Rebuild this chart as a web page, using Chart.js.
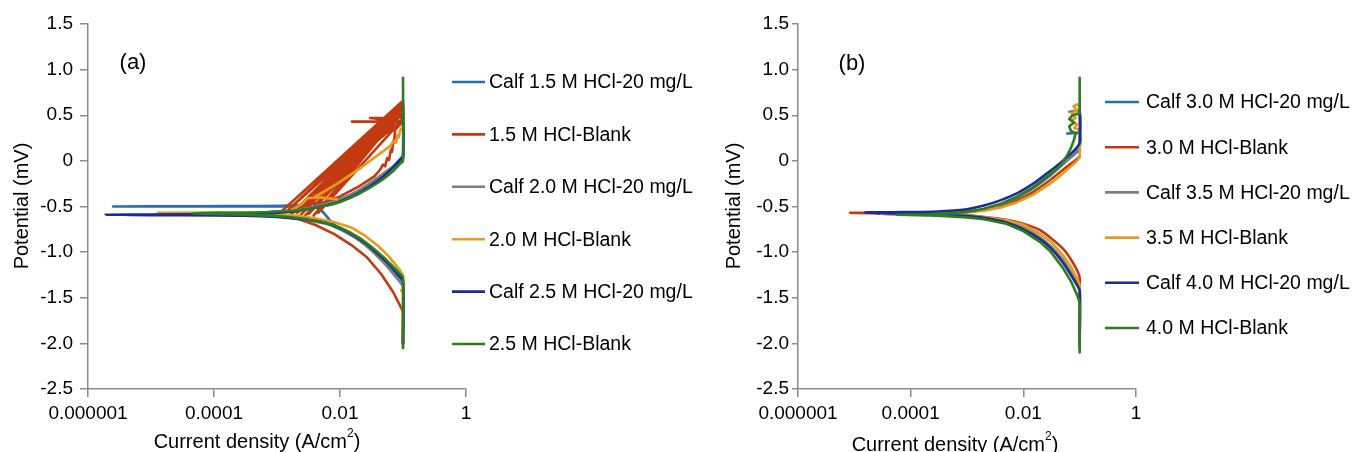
<!DOCTYPE html>
<html><head><meta charset="utf-8">
<script src="https://cdn.jsdelivr.net/npm/chart.js@4.4.1/dist/chart.umd.min.js"></script>
<style>
html,body{margin:0;padding:0;background:#fff;}
#wrap{position:relative;width:1354px;height:452px;overflow:hidden;}
canvas{position:absolute;top:0;}
</style></head>
<body><div id="wrap"><canvas id="ca" width="700" height="452" style="left:0"></canvas><canvas id="cb" width="654" height="452" style="left:700px"></canvas></div>
<script>
// ---------- tick labels ----------
const xTickValues = [1e-6, 1e-4, 1e-2, 1];
const xTickLabels = ['0.000001', '0.0001', '0.01', '1'];
const yTickValues = [-2.5, -2, -1.5, -1, -0.5, 0, 0.5, 1, 1.5];
const yTickLabels = ['-2.5', '-2.0', '-1.5', '-1.0', '-0.5', '0', '0.5', '1.0', '1.5'];

// ---------- categories ----------
const seriesA = ['Calf 1.5 M HCl-20 mg/L', '1.5 M HCl-Blank', 'Calf 2.0 M HCl-20 mg/L', '2.0 M HCl-Blank', 'Calf 2.5 M HCl-20 mg/L', '2.5 M HCl-Blank'];
const seriesB = ['Calf 3.0 M HCl-20 mg/L', '3.0 M HCl-Blank', 'Calf 3.5 M HCl-20 mg/L', '3.5 M HCl-Blank', 'Calf 4.0 M HCl-20 mg/L', '4.0 M HCl-Blank'];
const colors = ['#2270B8', '#C43A10', '#7F7F7F', '#E59C1C', '#1B2D90', '#2C7D1F'];

// ---------- panel (a) values: [current density, potential] ----------
const a_calf15 = [[0.1,-2.0],[0.1,-1.33],[0.085,-1.27],[0.06,-1.16],[0.04,-1.04],[0.025,-0.92],[0.015,-0.81],[0.01,-0.74],[0.0075,-0.68],[0.006,-0.6],[0.005,-0.54],[0.004,-0.51],[0.002,-0.5],[0.0005,-0.5],[0.00005,-0.5],[2.5e-6,-0.5],[0.00005,-0.497],[0.0005,-0.495],[0.0015,-0.49],[0.003,-0.475],[0.006,-0.45],[0.01,-0.42],[0.02,-0.33],[0.04,-0.2],[0.07,-0.06],[0.09,0.02],[0.1,0.06],[0.1,0.6]];
const a_blank15 = [[0.1,-2.0],[0.1,-1.66],[0.095,-1.62],[0.07,-1.44],[0.045,-1.24],[0.027,-1.06],[0.015,-0.92],[0.008,-0.8],[0.004,-0.7],[0.002,-0.63],[0.0011,-0.585],[0.0008,-0.56],
  [0.0012,-0.55],[0.1,0.66],[0.0014,-0.56],[0.095,0.62],[0.0017,-0.58],[0.1,0.6],[0.0019,-0.56],[0.09,0.56],[0.0015,-0.54],[0.1,0.64],[0.0024,-0.59],[0.085,0.5],[0.0021,-0.57],[0.1,0.57],[0.0028,-0.6],[0.08,0.48],[0.0032,-0.58],[0.1,0.52],[0.0026,-0.55],[0.09,0.53],[0.0038,-0.6],[0.075,0.46],[0.0045,-0.57],[0.1,0.46],[0.002,-0.53],[0.1,0.62],[0.003,-0.5],[0.075,0.45],
  [0.004,-0.5],[0.01,-0.39],[0.02,-0.28],[0.035,-0.17],[0.043,-0.1],[0.048,-0.04],[0.052,-0.06],[0.056,0.03],[0.06,0.01],[0.064,0.12],[0.067,0.1],[0.07,0.22],[0.072,0.2],[0.075,0.34],[0.085,0.38],[0.1,0.43],[0.0155,0.43],[0.1,0.43],[0.03,0.47],[0.1,0.47],[0.1,0.64]];
const a_calf20 = [[0.1,-2.0],[0.1,-1.38],[0.09,-1.33],[0.07,-1.24],[0.05,-1.12],[0.03,-0.97],[0.02,-0.87],[0.01,-0.75],[0.006,-0.69],[0.003,-0.65],[0.0015,-0.62],[0.0007,-0.605],[0.0003,-0.595],[0.0001,-0.59],[1.2e-5,-0.585],[0.0001,-0.58],[0.0005,-0.575],[0.0015,-0.555],[0.003,-0.52],[0.006,-0.47],[0.01,-0.42],[0.02,-0.32],[0.04,-0.18],[0.07,-0.06],[0.1,0.02],[0.1,0.5]];
const a_blank20 = [[0.1,-2.05],[0.1,-1.45],[0.094,-1.42],[0.1,-1.4],[0.1,-1.26],[0.09,-1.2],[0.06,-1.05],[0.04,-0.93],[0.025,-0.82],[0.015,-0.73],[0.008,-0.67],[0.004,-0.63],[0.002,-0.6],[0.0008,-0.585],[0.0002,-0.575],[1.3e-5,-0.57],[0.0002,-0.567],[0.0008,-0.562],[0.0016,-0.55],[0.0025,-0.47],[0.003,-0.41],[0.0045,-0.4],[0.009,-0.42],[0.004,-0.39],[0.0055,-0.34],[0.01,-0.23],[0.02,-0.09],[0.03,0.0],[0.045,0.09],[0.062,0.16],[0.072,0.22],[0.078,0.2],[0.082,0.28],[0.086,0.26],[0.09,0.34],[0.1,0.36],[0.1,0.42]];
const a_calf25 = [[0.1,-2.0],[0.1,-1.32],[0.085,-1.25],[0.06,-1.13],[0.04,-1.02],[0.025,-0.9],[0.015,-0.8],[0.01,-0.74],[0.006,-0.68],[0.003,-0.645],[0.0015,-0.625],[0.0007,-0.61],[0.0003,-0.6],[0.0001,-0.597],[1e-5,-0.594],[1.9e-6,-0.59],[1e-5,-0.588],[0.0001,-0.585],[0.0005,-0.578],[0.0015,-0.56],[0.003,-0.53],[0.006,-0.49],[0.01,-0.445],[0.02,-0.35],[0.04,-0.22],[0.07,-0.07],[0.09,0.01],[0.1,0.05],[0.1,0.6]];
const a_blank25 = [[0.1,-2.05],[0.1,-1.6],[0.1,-1.28],[0.09,-1.24],[0.07,-1.16],[0.05,-1.06],[0.03,-0.93],[0.02,-0.84],[0.01,-0.73],[0.006,-0.68],[0.003,-0.64],[0.0015,-0.615],[0.0007,-0.6],[0.0003,-0.59],[0.0001,-0.583],[4.5e-5,-0.575],[0.0001,-0.57],[0.0005,-0.565],[0.0015,-0.55],[0.003,-0.53],[0.006,-0.49],[0.01,-0.45],[0.02,-0.36],[0.04,-0.24],[0.07,-0.11],[0.09,-0.03],[0.1,0.0],[0.1,0.91]];

// ---------- panel (b) values ----------
const b_calf30 = [[0.1,-2.0],[0.1,-1.42],[0.09,-1.36],[0.07,-1.24],[0.05,-1.1],[0.03,-0.94],[0.02,-0.85],[0.01,-0.74],[0.005,-0.67],[0.002,-0.62],[0.001,-0.6],[0.0003,-0.59],[2.5e-5,-0.58],[0.0003,-0.575],[0.001,-0.56],[0.002,-0.53],[0.004,-0.48],[0.008,-0.4],[0.015,-0.3],[0.03,-0.16],[0.05,-0.04],[0.07,0.04],[0.09,0.1],[0.1,0.14],[0.1,0.3],[0.06,0.3],[0.1,0.32],[0.1,0.55]];
const b_blank30 = [[0.1,-2.05],[0.1,-1.28],[0.09,-1.2],[0.07,-1.08],[0.05,-0.96],[0.03,-0.84],[0.02,-0.76],[0.01,-0.69],[0.005,-0.645],[0.002,-0.615],[0.001,-0.6],[0.0003,-0.585],[0.00005,-0.575],[8.4e-6,-0.57],[0.00005,-0.568],[0.0003,-0.565],[0.001,-0.555],[0.002,-0.535],[0.004,-0.5],[0.008,-0.43],[0.015,-0.34],[0.03,-0.21],[0.05,-0.1],[0.07,-0.03],[0.09,0.02],[0.1,0.05]];
const b_calf35 = [[0.1,-2.0],[0.1,-1.4],[0.09,-1.34],[0.07,-1.22],[0.05,-1.08],[0.03,-0.93],[0.02,-0.84],[0.01,-0.73],[0.005,-0.665],[0.002,-0.62],[0.001,-0.6],[0.0003,-0.59],[3e-5,-0.58],[0.0003,-0.575],[0.001,-0.56],[0.002,-0.53],[0.004,-0.475],[0.008,-0.39],[0.015,-0.29],[0.03,-0.15],[0.05,-0.03],[0.07,0.05],[0.09,0.12],[0.1,0.16],[0.1,0.54],[0.065,0.54],[0.1,0.55],[0.1,0.58]];
const b_blank35 = [[0.1,-2.05],[0.1,-1.36],[0.09,-1.29],[0.07,-1.16],[0.05,-1.03],[0.03,-0.88],[0.02,-0.8],[0.01,-0.7],[0.005,-0.65],[0.002,-0.615],[0.001,-0.6],[0.0003,-0.59],[3e-5,-0.58],[0.0003,-0.577],[0.001,-0.565],[0.002,-0.545],[0.004,-0.51],[0.008,-0.45],[0.015,-0.37],[0.03,-0.25],[0.05,-0.14],[0.07,-0.06],[0.09,0.0],[0.1,0.04],[0.1,0.34],[0.08,0.36],[0.09,0.4],[0.07,0.44],[0.085,0.47],[0.072,0.52],[0.09,0.55],[0.078,0.6],[0.09,0.62],[0.1,0.6]];
const b_calf40 = [[0.1,-2.0],[0.1,-1.42],[0.09,-1.36],[0.07,-1.25],[0.05,-1.11],[0.03,-0.95],[0.02,-0.86],[0.01,-0.75],[0.005,-0.675],[0.002,-0.625],[0.001,-0.605],[0.0003,-0.59],[0.00005,-0.575],[1.55e-5,-0.565],[0.00005,-0.563],[0.0003,-0.555],[0.001,-0.53],[0.002,-0.49],[0.004,-0.43],[0.008,-0.35],[0.015,-0.25],[0.03,-0.11],[0.05,0.0],[0.07,0.08],[0.09,0.15],[0.1,0.2],[0.1,0.56]];
const b_blank40 = [[0.1,-2.1],[0.1,-1.55],[0.09,-1.47],[0.07,-1.32],[0.05,-1.17],[0.03,-0.99],[0.02,-0.89],[0.01,-0.77],[0.005,-0.69],[0.002,-0.64],[0.001,-0.62],[0.0003,-0.6],[5.8e-5,-0.59],[0.0003,-0.585],[0.001,-0.56],[0.002,-0.525],[0.004,-0.47],[0.008,-0.39],[0.015,-0.29],[0.03,-0.15],[0.045,-0.05],[0.06,0.06],[0.07,0.14],[0.08,0.24],[0.085,0.3],[0.07,0.33],[0.065,0.38],[0.08,0.42],[0.065,0.46],[0.075,0.5],[0.1,0.52],[0.1,0.91]];

const dataA = [a_calf15, a_blank15, a_calf20, a_blank20, a_calf25, a_blank25];
const dataB = [b_calf30, b_blank30, b_calf35, b_blank35, b_calf40, b_blank40];
const jaggedA = [false, true, false, true, false, false];
const jaggedB = [false, false, false, true, false, true];

const FONT = "'Liberation Sans', Arial, Helvetica, sans-serif";
const AXIS = '#8A8A8A';

const decorPlugin = {
  id: 'decor',
  afterDraw(chart, args, o) {
    const ctx = chart.ctx;
    ctx.save();
    ctx.fillStyle = '#000';
    ctx.font = o.panelSize + 'px ' + FONT;
    ctx.textAlign = 'center'; ctx.textBaseline = 'middle';
    ctx.fillText(o.panel, o.panelX, o.panelY);
    ctx.font = o.legSize + 'px ' + FONT;
    ctx.textAlign = 'left'; ctx.textBaseline = 'middle';
    chart.data.datasets.forEach((ds, i) => {
      const y = o.legY0 + i * o.legDy;
      ctx.strokeStyle = ds.borderColor; ctx.lineWidth = 2.6;
      ctx.beginPath(); ctx.moveTo(o.legX, y); ctx.lineTo(o.legX + o.legLen, y); ctx.stroke();
      ctx.fillText(ds.label, o.legX + o.legLen + o.legGap, y + 1);
    });
    ctx.font = o.titleSize + 'px ' + FONT;
    ctx.save();
    ctx.translate(o.yTitleX, o.yTitleY); ctx.rotate(-Math.PI / 2);
    ctx.textAlign = 'center'; ctx.textBaseline = 'middle';
    ctx.fillText('Potential (mV)', 0, 0);
    ctx.restore();
    const main = 'Current density (A/cm', sup = '2', tail = ')';
    ctx.textAlign = 'left'; ctx.textBaseline = 'alphabetic';
    const wMain = ctx.measureText(main).width;
    const wTail = ctx.measureText(tail).width;
    const supSize = Math.round(o.titleSize * 0.6);
    ctx.font = supSize + 'px ' + FONT;
    const wSup = ctx.measureText(sup).width;
    let x = o.xTitleX - (wMain + wSup + wTail) / 2;
    ctx.font = o.titleSize + 'px ' + FONT;
    ctx.fillText(main, x, o.xTitleY); x += wMain;
    ctx.font = supSize + 'px ' + FONT;
    ctx.fillText(sup, x, o.xTitleY - o.titleSize * 0.55); x += wSup;
    ctx.font = o.titleSize + 'px ' + FONT;
    ctx.fillText(tail, x, o.xTitleY);
    ctx.restore();
  }
};

function makeChart(id, names, series, jag, cfg) {
  const datasets = series.map((arr, i) => ({
    label: names[i],
    data: arr.map(p => ({ x: p[0], y: p[1] })),
    borderColor: colors[i],
    backgroundColor: colors[i],
    borderWidth: 2.6,
    borderJoinStyle: 'round',
    borderCapStyle: 'round',
    pointRadius: 0,
    showLine: true,
    tension: jag[i] ? 0 : 0.25,
    fill: false,
    order: series.length - i
  }));
  return new Chart(document.getElementById(id), {
    type: 'scatter',
    data: { datasets },
    plugins: [decorPlugin],
    options: {
      responsive: false,
      animation: false,
      devicePixelRatio: 1,
      layout: { padding: { top: 24, right: cfg.padRight, left: 0, bottom: 0 } },
      plugins: { legend: { display: false }, tooltip: { enabled: false }, decor: cfg.decor },
      scales: {
        x: {
          type: 'logarithmic', min: 1e-6, max: 1,
          afterBuildTicks: s => { s.ticks = xTickValues.map(v => ({ value: v })); },
          afterFit: s => { s.height = 63; },
          ticks: {
            autoSkip: false, maxRotation: 0, padding: 5, color: '#000',
            font: { family: FONT, size: 19 },
            callback: v => { const k = xTickValues.findIndex(t => Math.abs(Math.log10(t) - Math.log10(v)) < 1e-6); return k >= 0 ? xTickLabels[k] : ''; }
          },
          grid: { drawOnChartArea: false, drawTicks: true, tickLength: 8, color: AXIS, lineWidth: 1.5 },
          border: { display: true, color: AXIS, width: 1.5 }
        },
        y: {
          type: 'linear', min: -2.5, max: 1.5,
          afterBuildTicks: s => { s.ticks = yTickValues.map(v => ({ value: v })); },
          afterFit: s => { s.width = cfg.yWidth; },
          ticks: {
            autoSkip: false, padding: cfg.yPad, color: '#000',
            font: { family: FONT, size: 19 },
            callback: v => { const k = yTickValues.findIndex(t => Math.abs(t - v) < 1e-9); return k >= 0 ? yTickLabels[k] : ''; }
          },
          grid: { drawOnChartArea: false, drawTicks: true, tickLength: cfg.yTick, color: AXIS, lineWidth: 1.5 },
          border: { display: true, color: AXIS, width: 1.5 }
        }
      }
    }
  });
}

makeChart('ca', seriesA, dataA, jaggedA, {
  padRight: 700 - 466, yWidth: 88, yPad: 7, yTick: 8,
  decor: { panel: '(a)', panelX: 133, panelY: 63, panelSize: 22,
    legX: 452, legLen: 33, legGap: 4, legY0: 82, legDy: 52.4, legSize: 19.5,
    titleSize: 20, yTitleX: 22, yTitleY: 206, xTitleX: 257, xTitleY: 448 }
});
makeChart('cb', seriesB, dataB, jaggedB, {
  padRight: 654 - 436, yWidth: 98, yPad: 3, yTick: 6,
  decor: { panel: '(b)', panelX: 152, panelY: 64, panelSize: 22,
    legX: 405, legLen: 34, legGap: 7, legY0: 102, legDy: 45.2, legSize: 19.5,
    titleSize: 20, yTitleX: 34, yTitleY: 206, xTitleX: 255, xTitleY: 451 }
});
</script>
</body></html>
